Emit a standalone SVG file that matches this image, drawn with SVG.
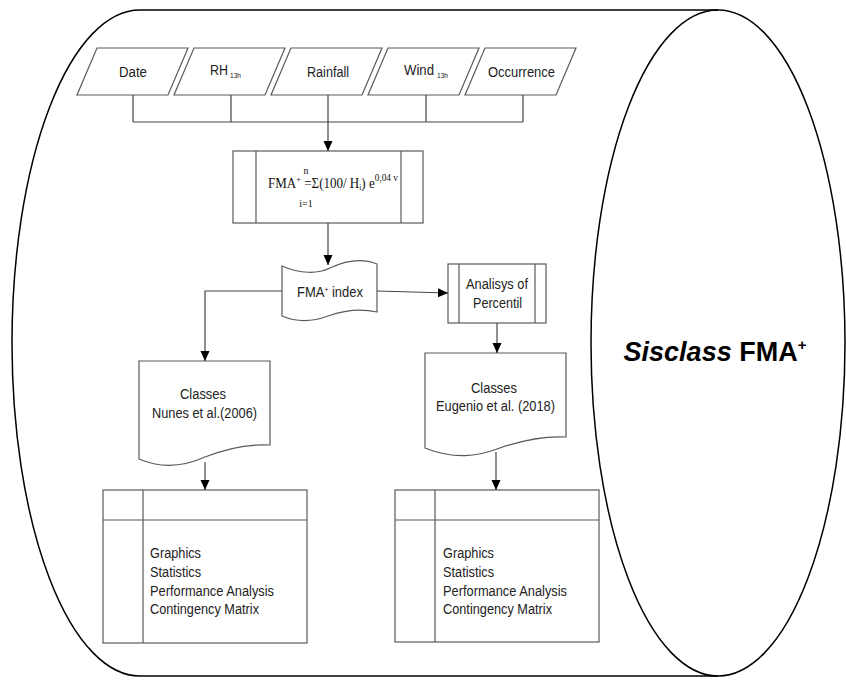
<svg xmlns="http://www.w3.org/2000/svg" width="846" height="680" viewBox="0 0 846 680">
<defs>
<marker id="ah" markerWidth="10" markerHeight="10" refX="10" refY="5" orient="auto" markerUnits="userSpaceOnUse">
<path d="M0,0.5 L10,5 L0,9.5 Z" fill="#000"/>
</marker>
<style>
.sh{fill:#fff;stroke:#5a5a5a;stroke-width:1.2}
.ln{fill:none;stroke:#5a5a5a;stroke-width:1.2}
.cn{fill:none;stroke:#444;stroke-width:1.2}
.ar{fill:none;stroke:#444;stroke-width:1.2;marker-end:url(#ah)}
.t{font-family:"Liberation Sans",Arial,sans-serif;font-size:15.5px;fill:#222}
.s{font-family:"Liberation Sans",Arial,sans-serif;font-size:7px;fill:#222}
.f{font-family:"Liberation Serif","Times New Roman",serif;fill:#111}
.cyl{fill:none;stroke:#000;stroke-width:1.5}
</style>
</defs>
<rect width="846" height="680" fill="#fff"/>

<g id="cylinder">
<path class="cyl" d="M140,10 L718,10 M140,676 L718,676 M140,10 A128,333 0 0 0 140,676"/>
<ellipse class="cyl" cx="718" cy="343" rx="127" ry="333"/>
<text x="715" y="361" text-anchor="middle" font-family="Liberation Sans,Arial,sans-serif" font-weight="bold" font-size="27" fill="#000"><tspan font-style="italic">Sisclass</tspan> FMA<tspan font-size="15" dy="-11">+</tspan></text>
</g>

<g id="date">
<polygon class="sh" points="97,48 188,48 168,95 77,95"/>
<text class="t" x="119" y="77" textLength="28" lengthAdjust="spacingAndGlyphs">Date</text>
</g>
<g id="rh">
<polygon class="sh" points="194,48 285,48 265,95 174,95"/>
<text class="t" x="210" y="75" textLength="18" lengthAdjust="spacingAndGlyphs">RH</text>
<text class="s" x="230" y="78" textLength="11" lengthAdjust="spacingAndGlyphs">13h</text>
</g>
<g id="rainfall">
<polygon class="sh" points="291,48 382,48 362,95 271,95"/>
<text class="t" x="307" y="77" textLength="42" lengthAdjust="spacingAndGlyphs">Rainfall</text>
</g>
<g id="wind">
<polygon class="sh" points="388,48 479,48 459,95 368,95"/>
<text class="t" x="404" y="75" textLength="30" lengthAdjust="spacingAndGlyphs">Wind</text>
<text class="s" x="437" y="78" textLength="11" lengthAdjust="spacingAndGlyphs">13h</text>
</g>
<g id="occurrence">
<polygon class="sh" points="485,48 576,48 556,95 465,95"/>
<text class="t" x="488" y="77" textLength="67" lengthAdjust="spacingAndGlyphs">Occurrence</text>
</g>

<g id="formula">
<rect class="sh" x="233" y="151" width="190" height="72"/>
<path class="ln" d="M256,151 V223 M401,151 V223"/>
<text class="f" x="268" y="188" font-size="14" textLength="130" lengthAdjust="spacingAndGlyphs">FMA<tspan font-size="9" dy="-6">+</tspan><tspan dy="6"> =Σ(100/ H</tspan><tspan font-size="8" dy="2">i</tspan><tspan dy="-2">) e</tspan><tspan font-size="10" dy="-7">0,04 v</tspan></text>
<text class="f" x="306" y="174" font-size="10" text-anchor="middle">n</text>
<text class="f" x="306" y="207" font-size="10" text-anchor="middle">i=1</text>
</g>

<g id="fma-index">
<path class="sh" d="M282,266 C300,274 318,274 330,268 C345,261 362,258 377,264 L377,312 C360,308 345,310 328,316 C312,322 296,322 282,316 Z"/>
<text class="t" x="297" y="297" textLength="66" lengthAdjust="spacingAndGlyphs">FMA<tspan font-size="8" dy="-5">+</tspan><tspan dy="5"> index</tspan></text>
</g>

<g id="percentil">
<rect class="sh" x="448" y="264" width="98" height="59"/>
<path class="ln" d="M459,264 V323 M535,264 V323"/>
<text class="t" x="466" y="289" textLength="62" lengthAdjust="spacingAndGlyphs">Analisys of</text>
<text class="t" x="473" y="308" textLength="49" lengthAdjust="spacingAndGlyphs">Percentil</text>
</g>

<g id="classes-nunes">
<path class="sh" d="M139,361 H270 V445 C250,444 228,448 205,457 C185,466 162,469 139,459 Z"/>
<text class="t" x="180" y="399" textLength="46" lengthAdjust="spacingAndGlyphs">Classes</text>
<text class="t" x="152" y="418" textLength="105" lengthAdjust="spacingAndGlyphs">Nunes et al.(2006)</text>
</g>

<g id="classes-eugenio">
<path class="sh" d="M425,353 H566 V437 C545,436 522,440 497,449 C478,456 455,460 425,448 Z"/>
<text class="t" x="471" y="393" textLength="46" lengthAdjust="spacingAndGlyphs">Classes</text>
<text class="t" x="436" y="411" textLength="119" lengthAdjust="spacingAndGlyphs">Eugenio et al. (2018)</text>
</g>

<g id="results-left">
<rect class="sh" x="103" y="490" width="204" height="153"/>
<path class="ln" d="M103,520 H307 M143,490 V643"/>
<text class="t" x="150" y="558" textLength="51" lengthAdjust="spacingAndGlyphs">Graphics</text>
<text class="t" x="150" y="577" textLength="51" lengthAdjust="spacingAndGlyphs">Statistics</text>
<text class="t" x="150" y="596" textLength="124" lengthAdjust="spacingAndGlyphs">Performance Analysis</text>
<text class="t" x="150" y="614" textLength="109" lengthAdjust="spacingAndGlyphs">Contingency Matrix</text>
</g>

<g id="results-right">
<rect class="sh" x="395" y="490" width="204" height="152"/>
<path class="ln" d="M395,520 H599 M435,490 V642"/>
<text class="t" x="443" y="558" textLength="51" lengthAdjust="spacingAndGlyphs">Graphics</text>
<text class="t" x="443" y="577" textLength="51" lengthAdjust="spacingAndGlyphs">Statistics</text>
<text class="t" x="443" y="596" textLength="124" lengthAdjust="spacingAndGlyphs">Performance Analysis</text>
<text class="t" x="443" y="614" textLength="109" lengthAdjust="spacingAndGlyphs">Contingency Matrix</text>
</g>

<g id="connectors">
<path class="cn" d="M133,95 V122 M231,95 V122 M328,95 V122 M426,95 V122 M523,95 V122 M133,122 H523"/>
<path class="ar" d="M328,122 V151"/>
<path class="ar" d="M328,223 V265"/>
<path class="ar" d="M282,291 H205 V361"/>
<path class="ar" d="M377,291 L448,293"/>
<path class="ar" d="M497,323 V353"/>
<path class="ar" d="M205,462 V490"/>
<path class="ar" d="M496,452 V490"/>
</g>
</svg>
